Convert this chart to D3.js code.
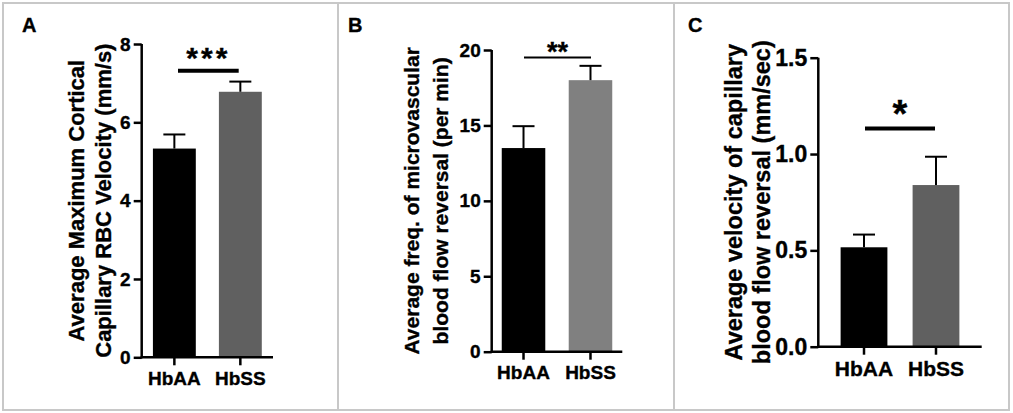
<!DOCTYPE html>
<html>
<head>
<meta charset="utf-8">
<script src="https://cdn.jsdelivr.net/npm/d3@7"></script>
<style>
  body { margin: 0; background: #fff; }
  svg { display: block; font-family: "Liberation Sans", Arial, sans-serif; }
  svg text { stroke: #000; stroke-width: 0.35px; }
</style>
</head>
<body>
<svg id="chart" width="1013" height="413"></svg>
<script>
// Three bar panels (mean + SEM) comparing HbAA vs HbSS.

const groups = ["HbAA", "HbSS"];

const rbcVelocityMean = [5.33, 6.78];
const rbcVelocitySem = [0.36, 0.26];
const rbcVelocityTicks = [0, 2, 4, 6, 8];

const reversalFreqMean = [13.5, 18.0];
const reversalFreqSem = [1.45, 0.95];
const reversalFreqTicks = [0, 5, 10, 15, 20];

const reversalVelMean = [0.516, 0.839];
const reversalVelSem = [0.066, 0.147];
const reversalVelTicks = [0, 0.5, 1.0, 1.5];

const significance = ["***", "**", "*"];
const sigLevel = [7.32, 19.5, 1.133];

const svg = d3.select("#chart");

// panel frames
[3, 338, 674, 1009].forEach(x => {
  svg.append("line").attr("x1", x).attr("x2", x).attr("y1", 3).attr("y2", 410)
    .attr("stroke", "#c8c8c8").attr("stroke-width", 2);
});
[3, 410].forEach(y => {
  svg.append("line").attr("x1", 2).attr("x2", 1010).attr("y1", y).attr("y2", y)
    .attr("stroke", "#c8c8c8").attr("stroke-width", 2);
});

const panels = [
  {
    letter: "A", letterX: 22, mean: rbcVelocityMean, sem: rbcVelocitySem,
    ticks: rbcVelocityTicks, fmt: d3.format("d"), sig: 0,
    label: ["Average Maximum Cortical", "Capillary RBC Velocity (mm/s)"],
    left: 141.7, right: 273, top: 44, bottom: 357.3, outer: 0.17,
    colors: ["#000000", "#606060"], labelSize: 22, labelX: [76.7, 103],
    tickSize: 19, catSize: 19, sigWidth: 4, sigSize: 30, sigSpacing: 3,
    sigX: [178, 238.7], starY: 59
  },
  {
    letter: "B", letterX: 348, mean: reversalFreqMean, sem: reversalFreqSem,
    ticks: reversalFreqTicks, fmt: d3.format("d"), sig: 1,
    label: ["Average freq. of microvascular", "blood flow reversal (per min)"],
    left: 491.7, right: 622.3, top: 50, bottom: 351.7, outer: 0.15,
    colors: ["#000000", "#808080"], labelSize: 21, labelX: [411.5, 441],
    tickSize: 19, catSize: 19, sigWidth: 2, sigSize: 27, sigSpacing: 0,
    sigX: [524, 591], starY: 53
  },
  {
    letter: "C", letterX: 688, mean: reversalVelMean, sem: reversalVelSem,
    ticks: reversalVelTicks, fmt: d3.format(".1f"), sig: 2,
    label: ["Average velocity of capillary", "blood flow reversal (mm/sec)"],
    left: 818.3, right: 981.7, top: 57.7, bottom: 346.7, outer: 0.31,
    colors: ["#000000", "#606060"], labelSize: 23.5, labelX: [733.5, 761.5],
    tickSize: 23, catSize: 21, sigWidth: 4, sigSize: 38, sigSpacing: 0,
    sigX: [865, 935], starY: 116
  }
];

panels.forEach(p => {
  const g = svg.append("g");

  const x = d3.scaleBand()
    .domain(groups)
    .range([p.left, p.right])
    .paddingInner(0.35)
    .paddingOuter(p.outer);

  const y = d3.scaleLinear()
    .domain([p.ticks[0], p.ticks[p.ticks.length - 1]])
    .range([p.bottom, p.top]);

  // bars
  g.selectAll(".bar")
    .data(groups)
    .join("rect")
    .attr("x", d => x(d))
    .attr("width", x.bandwidth())
    .attr("y", (d, i) => y(p.mean[i]))
    .attr("height", (d, i) => y(0) - y(p.mean[i]))
    .attr("fill", (d, i) => p.colors[i]);

  // error bars (upper only)
  groups.forEach((d, i) => {
    const cx = x(d) + x.bandwidth() / 2;
    const yTop = y(p.mean[i] + p.sem[i]);
    g.append("line").attr("x1", cx).attr("x2", cx)
      .attr("y1", y(p.mean[i])).attr("y2", yTop)
      .attr("stroke", "#000").attr("stroke-width", 2);
    g.append("line").attr("x1", cx - 11).attr("x2", cx + 11)
      .attr("y1", yTop).attr("y2", yTop)
      .attr("stroke", "#000").attr("stroke-width", 2);
  });

  // y axis
  const yAxis = g.append("g")
    .attr("transform", `translate(${p.left},0)`)
    .call(d3.axisLeft(y).tickValues(p.ticks).tickFormat(p.fmt).tickSize(8).tickSizeOuter(0).tickPadding(3));

  // x axis
  const xAxis = g.append("g")
    .attr("transform", `translate(0,${p.bottom})`)
    .call(d3.axisBottom(x).tickSize(8).tickSizeOuter(0).tickPadding(6));

  [yAxis, xAxis].forEach(ax => {
    ax.select(".domain").attr("stroke", "#000").attr("stroke-width", 2.5);
    ax.selectAll(".tick line").attr("stroke", "#000").attr("stroke-width", 2.5);
    ax.selectAll(".tick text")
      .attr("fill", "#000")
      .attr("font-family", "'Liberation Sans', Arial, sans-serif")
      .attr("font-weight", "bold");
  });
  yAxis.selectAll(".tick text").attr("font-size", p.tickSize);
  xAxis.selectAll(".tick text").attr("font-size", p.catSize);
  // x axis line starts at the y axis
  xAxis.select(".domain").attr("d", `M${p.left - 1},0H${p.right}`);
  yAxis.select(".domain").attr("d", `M0,${p.top}V${p.bottom + 1}`);

  // y label (two lines, rotated)
  const midY = (p.top + p.bottom) / 2;
  p.label.forEach((line, k) => {
    g.append("text")
      .attr("transform", `translate(${p.labelX[k]},${midY}) rotate(-90)`)
      .attr("text-anchor", "middle")
      .attr("dy", "0.35em")
      .attr("font-size", p.labelSize)
      .attr("font-weight", "bold")
      .attr("fill", "#000")
      .text(line);
  });

  // significance bar
  const sy = y(sigLevel[p.sig]);
  g.append("line")
    .attr("x1", p.sigX[0]).attr("x2", p.sigX[1])
    .attr("y1", sy).attr("y2", sy)
    .attr("stroke", "#000").attr("stroke-width", p.sigWidth);
  g.append("text")
    .attr("x", (p.sigX[0] + p.sigX[1]) / 2)
    .attr("y", p.starY + p.sigSize * 0.3)
    .attr("text-anchor", "middle")
    .attr("font-size", p.sigSize)
    .attr("font-weight", "bold")
    .attr("letter-spacing", p.sigSpacing)
    .attr("fill", "#000")
    .text(significance[p.sig]);

  // panel letter
  g.append("text")
    .attr("x", p.letterX)
    .attr("y", 32)
    .attr("font-size", 20)
    .attr("font-weight", "bold")
    .attr("fill", "#000")
    .text(p.letter);
});
</script>
</body>
</html>
